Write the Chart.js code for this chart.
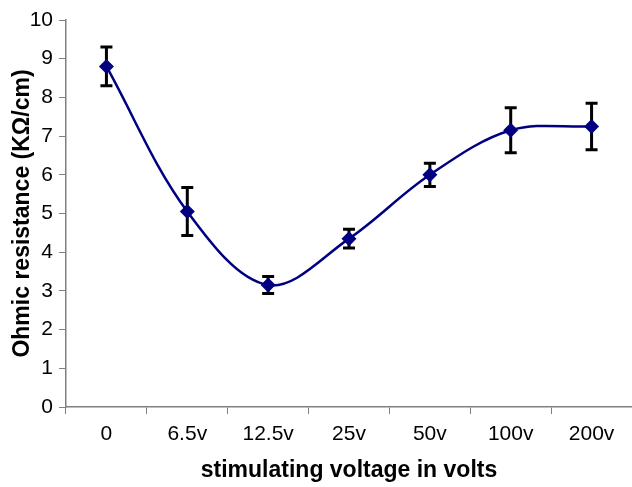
<!DOCTYPE html>
<html>
<head>
<meta charset="utf-8">
<script src="https://cdn.jsdelivr.net/npm/chart.js@4"></script>
<style>
  html, body { margin: 0; padding: 0; background: #fff; }
  #wrap { width: 632px; height: 487px; }
</style>
</head>
<body>
<div id="wrap"><canvas id="the-chart" width="632" height="487"></canvas></div>
<script>
//
// Ohmic resistance vs stimulating voltage, with error bars
//

const voltages = ['0', '6.5v', '12.5v', '25v', '50v', '100v', '200v'];
const resistance = [8.8, 5.05, 3.15, 4.35, 6.0, 7.15, 7.25];
const resistanceErr = [0.5, 0.62, 0.22, 0.24, 0.3, 0.58, 0.6];
const yTicks = [0, 1, 2, 3, 4, 5, 6, 7, 8, 9, 10];

const axisColor = '#808080';
const lineColor = '#000080';

// draws the black error bars under the markers
const errorBars = {
  id: 'errorBars',
  beforeDatasetsDraw(chart) {
    const ctx = chart.ctx;
    const yScale = chart.scales.y;
    const meta = chart.getDatasetMeta(0);
    ctx.save();
    ctx.strokeStyle = '#000';
    ctx.lineWidth = 3;
    meta.data.forEach((pt, i) => {
      const top = yScale.getPixelForValue(resistance[i] + resistanceErr[i]);
      const bottom = yScale.getPixelForValue(resistance[i] - resistanceErr[i]);
      ctx.beginPath();
      ctx.moveTo(pt.x, top);
      ctx.lineTo(pt.x, bottom);
      ctx.moveTo(pt.x - 6, top);
      ctx.lineTo(pt.x + 6, top);
      ctx.moveTo(pt.x - 6, bottom);
      ctx.lineTo(pt.x + 6, bottom);
      ctx.stroke();
    });
    ctx.restore();
  }
};

const ctx = document.getElementById('the-chart');
new Chart(ctx, {
  type: 'line',
  data: {
    labels: voltages,
    datasets: [{
      data: resistance,
      borderColor: lineColor,
      backgroundColor: lineColor,
      borderWidth: 2.5,
      tension: 0.35,
      pointStyle: 'rectRot',
      pointRadius: 7.5,
      pointBorderWidth: 0
    }]
  },
  options: {
    responsive: false,
    animation: false,
    layout: { autoPadding: false, padding: { top: 20, right: 0, left: 0, bottom: 0 } },
    plugins: {
      legend: { display: false },
      tooltip: { enabled: false }
    },
    scales: {
      x: {
        offset: true,
        grid: { offset: true, drawOnChartArea: false, drawTicks: true, tickLength: 7, color: axisColor, lineWidth: 1 },
        border: { color: axisColor, width: 1.5 },
        ticks: {
          color: '#000',
          padding: 8,
          maxRotation: 0,
          font: { family: 'Liberation Sans', size: 21 }
        },
        title: {
          display: true,
          text: 'stimulating voltage in volts',
          color: '#000',
          padding: { top: 4, bottom: 3 },
          font: { family: 'Liberation Sans', size: 23, weight: 'bold' }
        },
        afterFit(scale) {
          scale.height = 80;
          scale.paddingLeft = 0;
          scale.paddingRight = 0;
        }
      },
      y: {
        min: 0,
        max: 10,
        afterBuildTicks(scale) { scale.ticks = yTicks.map((v) => ({ value: v })); },
        grid: { drawOnChartArea: false, drawTicks: true, tickLength: 7, color: axisColor, lineWidth: 1 },
        border: { color: axisColor, width: 1.5 },
        ticks: {
          color: '#000',
          padding: 6,
          font: { family: 'Liberation Sans', size: 21 }
        },
        title: {
          display: true,
          text: 'Ohmic resistance (KΩ/cm)',
          color: '#000',
          padding: { top: 9, bottom: 0 },
          font: { family: 'Liberation Sans', size: 23, weight: 'bold' }
        },
        afterFit(scale) { scale.width = 66; }
      }
    }
  },
  plugins: [errorBars]
});
</script>
</body>
</html>
